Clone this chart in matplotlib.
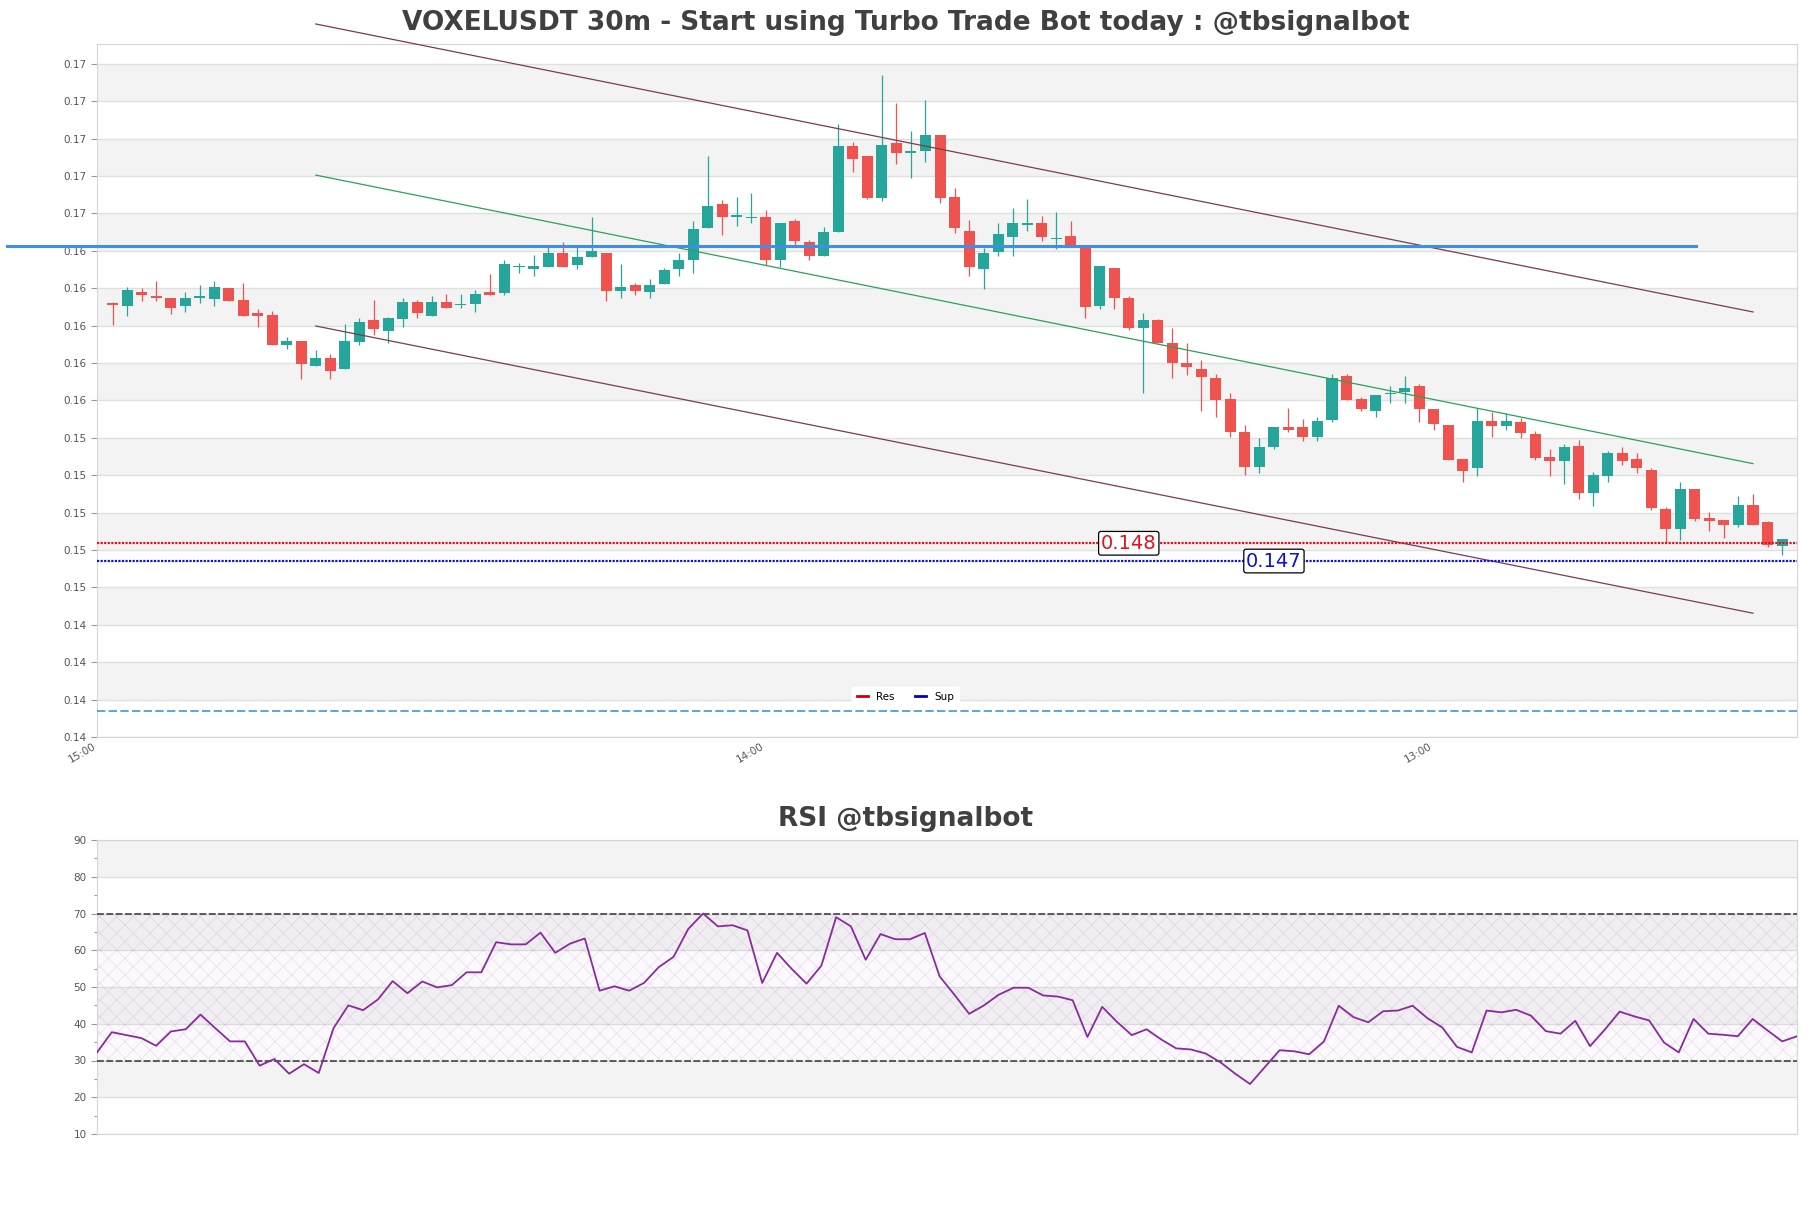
import matplotlib
matplotlib.use('Agg')
import matplotlib.pyplot as plt
import numpy as np
from matplotlib.lines import Line2D
from matplotlib.ticker import MultipleLocator

# ---------------- data ----------------
opens = [.16123, .16107, .16180, .16160, .16148, .16107, .16146, .16144, .16201, .16137,
         .16067, .16059, .15895, .15918, .15786, .15827, .15766, .15914, .16030, .15973,
         .16037, .16124, .16053, .16124, .16108, .16117, .16178, .16174, .16313, .16305,
         .16315, .16388, .16324, .16365, .16387, .16187, .16215, .16178, .16224, .16305,
         .16353, .16524, .16650, .16583, .16577, .16579, .16353, .16559, .16447, .16374,
         .16502, .16961, .16909, .16684, .16975, .16925, .16936, .17019, .16688, .16508,
         .16305, .16395, .16476, .16536, .16549, .16463, .16479, .16431, .16107, .16308,
         .16149, .15985, .16030, .15905, .15798, .15768, .15720, .15608, .15433, .15246,
         .15353, .15456, .15456, .15406, .15495, .15731, .15606, .15543, .15636, .15645,
         .15677, .15554, .15468, .15287, .15237, .15490, .15463, .15486, .15420, .15299,
         .15278, .15356, .15107, .15198, .15317, .15285, .15228, .15019, .14912, .15126,
         .14973, .14960, .14934, .15041, .14952, .14823]
highs = [.16128, .16208, .16199, .16239, .16148, .16180, .16217, .16239, .16201, .16230,
         .16087, .16078, .15937, .15918, .15870, .15846, .16009, .16039, .16137, .16048,
         .16146, .16137, .16158, .16169, .16169, .16190, .16274, .16351, .16337, .16376,
         .16429, .16447, .16422, .16581, .16387, .16328, .16226, .16247, .16306, .16387,
         .16561, .16909, .16672, .16686, .16709, .16618, .16549, .16570, .16458, .16526,
         .17078, .16984, .16909, .17340, .17189, .17041, .17206, .17019, .16738, .16567,
         .16413, .16547, .16627, .16677, .16588, .16609, .16561, .16431, .16319, .16308,
         .16158, .16066, .16035, .15985, .15905, .15816, .15741, .15638, .15468, .15397,
         .15460, .15558, .15499, .15513, .15741, .15741, .15620, .15629, .15677, .15731,
         .15686, .15554, .15468, .15287, .15558, .15540, .15531, .15508, .15436, .15340,
         .15365, .15388, .15219, .15331, .15353, .15317, .15237, .15032, .15165, .15126,
         .15005, .14960, .15091, .15099, .14957, .14859]
lows = [.16003, .16051, .16133, .16133, .16062, .16075, .16119, .16107, .16133, .16053,
        .15994, .15895, .15877, .15715, .15786, .15715, .15766, .15895, .15948, .15905,
        .15994, .16039, .16053, .16096, .16096, .16075, .16165, .16165, .16283, .16265,
        .16315, .16315, .16305, .16365, .16133, .16146, .16165, .16146, .16224, .16267,
        .16283, .16524, .16485, .16533, .16547, .16324, .16315, .16419, .16353, .16374,
        .16502, .16821, .16675, .16665, .16866, .16788, .16875, .16657, .16497, .16267,
        .16198, .16372, .16374, .16506, .16454, .16408, .16431, .16043, .16087, .16087,
        .15975, .15638, .15905, .15718, .15736, .15545, .15513, .15406, .15201, .15214,
        .15338, .15433, .15385, .15385, .15486, .15602, .15545, .15513, .15584, .15584,
        .15486, .15442, .15281, .15165, .15196, .15406, .15442, .15397, .15281, .15196,
        .15153, .15073, .15037, .15165, .15255, .15214, .15014, .14839, .14854, .14957,
        .14902, .14866, .14925, .14934, .14818, .14773]
closes = [.16108, .16190, .16165, .16146, .16096, .16148, .16160, .16208, .16133, .16053,
          .16053, .15895, .15918, .15797, .15827, .15756, .15918, .16019, .15984, .16039,
          .16124, .16066, .16124, .16096, .16112, .16169, .16165, .16329, .16317, .16319,
          .16388, .16315, .16367, .16399, .16187, .16205, .16187, .16215, .16297, .16351,
          .16517, .16640, .16583, .16592, .16581, .16353, .16549, .16454, .16374, .16501,
          .16961, .16891, .16684, .16966, .16925, .16936, .17019, .16684, .16524, .16315,
          .16387, .16490, .16549, .16547, .16476, .16467, .16431, .16098, .16319, .16146,
          .15985, .16030, .15905, .15798, .15777, .15727, .15602, .15433, .15246, .15349,
          .15456, .15442, .15406, .15490, .15718, .15602, .15554, .15629, .15641, .15665,
          .15554, .15474, .15281, .15224, .15490, .15463, .15490, .15427, .15290, .15278,
          .15349, .15107, .15201, .15317, .15278, .15237, .15026, .14912, .15126, .14966,
          .14957, .14934, .15041, .14934, .14827, .14859]

rsi = [32.2, 37.7, 36.9, 36.1, 34.0, 37.9, 38.5, 42.5, 38.8, 35.2,
       35.2, 28.6, 30.4, 26.4, 29.0, 26.6, 38.8, 45.0, 43.7, 46.6,
       51.6, 48.3, 51.5, 49.9, 50.5, 54.0, 54.0, 62.2, 61.6, 61.6,
       64.8, 59.3, 61.8, 63.2, 49.0, 50.2, 49.0, 51.1, 55.4, 58.2,
       65.8, 70.0, 66.5, 66.8, 65.4, 51.1, 59.3, 54.9, 50.9, 55.8,
       69.0, 66.5, 57.4, 64.4, 63.0, 63.0, 64.7, 52.9, 47.9, 42.7,
       45.0, 47.9, 49.8, 49.8, 47.7, 47.4, 46.4, 36.4, 44.6, 40.5,
       36.9, 38.5, 35.7, 33.3, 33.0, 31.9, 29.5, 26.4, 23.6, 28.2,
       32.8, 32.5, 31.7, 35.2, 44.9, 41.8, 40.4, 43.4, 43.6, 44.9,
       41.5, 39.0, 33.7, 32.2, 43.6, 43.1, 43.8, 42.2, 38.0, 37.3,
       40.8, 33.9, 38.4, 43.3, 42.0, 40.9, 34.9, 32.2, 41.3, 37.3,
       37.0, 36.6, 41.3, 38.2, 35.2, 36.6]

res_level = 0.14836
sup_level = 0.14741
res_label = "0.148"
sup_label = "0.147"
res_label_x = 70
sup_label_x = 80
pivot_level = 0.16424
pivot_x = [-7.3, 109.1]
low_dash_level = 0.13939
channel_x = [14, 113]
channel_upper = [0.17613, 0.16073]
channel_mid = [0.16805, 0.15262]
channel_lower = [0.15998, 0.14462]
xtick_pos = [-1, 45, 91]
xtick_labels = ["15:00", "14:00", "13:00"]
price_ticks = np.round(0.138 + 0.002 * np.arange(19), 3)
title = "VOXELUSDT 30m - Start using Turbo Trade Bot today : @tbsignalbot"
rsi_title = "RSI @tbsignalbot"

# ---------------- style ----------------
plt.rcParams['font.family'] = ['DejaVu Sans']
plt.rcParams['hatch.linewidth'] = 0.5
GREEN = '#26a69a'
RED = '#ef5350'
BAND = '#f3f3f3'
GRID = '#e0e0e0'
SPINE = '#d6d6d6'
TXT = '#555555'
RES_C = '#e5101f'
SUP_C = '#1010d8'

W, H = 1811, 1208
fig = plt.figure(figsize=(W / 100, H / 100), dpi=100)
ax = fig.add_axes([97 / W, 1 - 737 / H, 1700 / W, 693 / H])
ax2 = fig.add_axes([97 / W, 1 - 1134 / H, 1700 / W, 294 / H])

# ---------------- main price panel ----------------
x = np.arange(len(opens))
o = np.array(opens); c = np.array(closes); hi = np.array(highs); lo = np.array(lows)
cols = [GREEN if cc >= oo else RED for oo, cc in zip(o, c)]
body_bottom = np.minimum(o, c)
body_h = np.maximum(np.abs(c - o), 0.00006)
ax.vlines(x, lo, hi, colors=cols, lw=0.9, zorder=3)
ax.bar(x, body_h, bottom=body_bottom, width=0.76, color=cols, zorder=4, linewidth=0)

ax.set_xlim(-1.068, 116.03)
ax.set_ylim(0.138, 0.17506)
for k in range(9):
    ax.axhspan(0.140 + 0.004 * k, 0.142 + 0.004 * k, color=BAND, zorder=0, lw=0)
ax.set_yticks(price_ticks)
ax.set_yticklabels([f"{t:.2f}" for t in price_ticks])
ax.grid(axis='y', color=GRID, lw=1.0, zorder=1)
ax.set_axisbelow(True)
ax.set_xticks(xtick_pos)
ax.set_xticklabels(xtick_labels, rotation=30, ha='right', fontsize=7.5, color=TXT)
ax.tick_params(axis='x', length=0, pad=3)
ax.tick_params(axis='y', labelsize=7.5, labelcolor=TXT, color='#999999', length=4, width=0.8)
for s in ax.spines.values():
    s.set_color(SPINE)

ax.plot(channel_x, channel_upper, color='#7b3c50', lw=0.9, clip_on=False, zorder=5)
ax.plot(channel_x, channel_mid, color='#2ca05a', lw=0.9, clip_on=False, zorder=5)
ax.plot(channel_x, channel_lower, color='#7b3c50', lw=0.9, clip_on=False, zorder=5)
ax.plot(pivot_x, [pivot_level, pivot_level], color='#3f8fe6', lw=2.2, clip_on=False, zorder=5)
ax.axhline(res_level, color=RES_C, ls=(0, (1, 0.6)), lw=1.6, zorder=5)
ax.axhline(sup_level, color=SUP_C, ls=(0, (1, 0.6)), lw=1.6, zorder=5)
ax.axhline(low_dash_level, color='#3a9ad9', ls=(0, (5, 2)), lw=1.2, zorder=5)
ax.text(res_label_x, res_level, res_label, color=RES_C, fontsize=14, ha='center', va='center',
        bbox=dict(boxstyle='round,pad=0.12', fc='white', ec='black', lw=0.9), zorder=7)
ax.text(sup_label_x, sup_level, sup_label, color=SUP_C, fontsize=14, ha='center', va='center',
        bbox=dict(boxstyle='round,pad=0.12', fc='white', ec='black', lw=0.9), zorder=7)

handles = [Line2D([], [], color='#cc0000', lw=2), Line2D([], [], color='#0000bb', lw=2)]
leg = ax.legend(handles, ['Res', 'Sup'], loc='center', bbox_to_anchor=(0.5, 1 - 697 / H),
                bbox_transform=fig.transFigure, ncol=2, fontsize=7.5, frameon=True,
                facecolor='white', edgecolor='white', framealpha=1, handlelength=1.0,
                columnspacing=2.0, handletextpad=0.8, borderpad=0.5)
leg.set_zorder(8)

fig.text(0.5, 1 - 23 / H, title, ha='center', va='center', fontsize=19,
         fontweight='bold', color='#404040')

# ---------------- RSI panel ----------------
xr = np.arange(len(rsi))
ax2.set_xlim(0, len(rsi) - 1)
ax2.set_ylim(10, 90)
for lo_b in (20, 40, 60, 80):
    ax2.axhspan(lo_b, lo_b + 10, color=BAND, zorder=0, lw=0)
ax2.fill_between([0, len(rsi) - 1], 30, 70, facecolor=(0.62, 0.35, 0.72, 0.03),
                 edgecolor=(0.55, 0.45, 0.65, 0.2), hatch='xx', lw=0, zorder=1)
ax2.set_yticks(np.arange(10, 91, 10))
ax2.yaxis.set_minor_locator(MultipleLocator(5))
ax2.grid(axis='y', which='major', color=GRID, lw=1.0, zorder=1)
ax2.set_axisbelow(True)
ax2.set_xticks([])
ax2.tick_params(axis='y', which='major', labelsize=7.5, labelcolor=TXT, color='#999999', length=4, width=0.8)
ax2.tick_params(axis='y', which='minor', color='#999999', length=2, width=0.8)
for s in ax2.spines.values():
    s.set_color(SPINE)
ax2.axhline(70, color='#333333', ls=(0, (4.5, 1.6)), lw=1.1, zorder=3)
ax2.axhline(30, color='#333333', ls=(0, (4.5, 1.6)), lw=1.1, zorder=3)
ax2.plot(xr, rsi, color='#8a2a9e', lw=1.3, zorder=4)

fig.text(0.5, 1 - 819 / H, rsi_title, ha='center', va='center', fontsize=19,
         fontweight='bold', color='#404040')

fig.savefig('out.png', dpi=100)
